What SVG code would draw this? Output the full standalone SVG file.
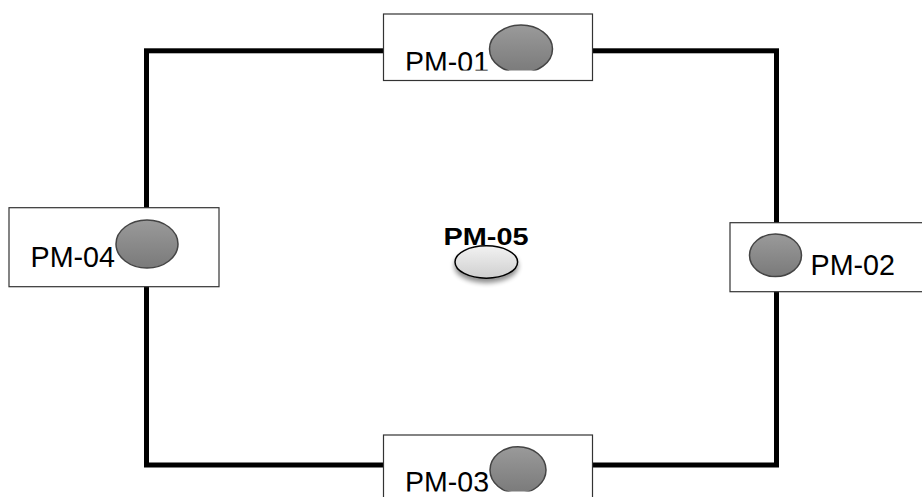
<svg xmlns="http://www.w3.org/2000/svg" width="922" height="497" viewBox="0 0 922 497">
<defs>
<linearGradient id="dark" x1="0" y1="0" x2="0" y2="1">
<stop offset="0" stop-color="#9a9a9a"/>
<stop offset="1" stop-color="#7a7a7a"/>
</linearGradient>
<linearGradient id="light" x1="0" y1="0" x2="0" y2="1">
<stop offset="0" stop-color="#f2f2f2"/>
<stop offset="1" stop-color="#cfcfcf"/>
</linearGradient>
<filter id="sh" x="-30%" y="-30%" width="160%" height="180%">
<feGaussianBlur in="SourceAlpha" stdDeviation="2.5"/>
<feOffset dx="0" dy="4" result="b"/>
<feComponentTransfer><feFuncA type="linear" slope="0.45"/></feComponentTransfer>
<feMerge><feMergeNode/><feMergeNode in="SourceGraphic"/></feMerge>
</filter>
<clipPath id="c1"><rect x="380" y="10" width="220" height="60.5"/></clipPath>
<clipPath id="c3"><rect x="380" y="430" width="220" height="61.5"/></clipPath>
</defs>
<style>
.box{fill:#fff;stroke:#333;stroke-width:1.2}
.dot{fill:url(#dark);stroke:#444;stroke-width:1.5}
.lbl{font-family:"Liberation Sans",Arial,sans-serif;font-size:30px;fill:#000}
</style>
<rect width="922" height="497" fill="#fff"/>
<g id="connectors">
<rect x="146.5" y="50.8" width="630" height="414.2" fill="none" stroke="#000" stroke-width="5"/>
</g>
<g id="pm01">
<rect class="box" x="383.5" y="14" width="209" height="66.5"/>
<g clip-path="url(#c1)">
<text class="lbl" x="405" y="71.5" textLength="84" lengthAdjust="spacingAndGlyphs">PM-01</text>
<ellipse class="dot" cx="521" cy="49" rx="31.5" ry="24"/>
</g>
</g>
<g id="pm02">
<rect class="box" x="730" y="222.7" width="195" height="69"/>
<ellipse class="dot" cx="775.5" cy="255.3" rx="26" ry="21.3"/>
<text class="lbl" x="810.5" y="275" textLength="84.5" lengthAdjust="spacingAndGlyphs">PM-02</text>
</g>
<g id="pm03">
<rect class="box" x="383.5" y="435" width="209" height="70"/>
<g clip-path="url(#c3)">
<text class="lbl" x="405" y="491.7" textLength="84" lengthAdjust="spacingAndGlyphs">PM-03</text>
<ellipse class="dot" cx="518" cy="470" rx="28" ry="23.3"/>
</g>
</g>
<g id="pm04">
<rect class="box" x="9" y="207.7" width="210" height="79"/>
<text class="lbl" x="30.5" y="266.7" textLength="84.5" lengthAdjust="spacingAndGlyphs">PM-04</text>
<ellipse class="dot" cx="147" cy="244" rx="31" ry="24"/>
</g>
<g id="pm05">
<text x="443.5" y="245" font-family="'Liberation Sans',Arial,sans-serif" font-weight="bold" font-size="23" textLength="85" lengthAdjust="spacingAndGlyphs">PM-05</text>
<ellipse cx="486.3" cy="262" rx="31.3" ry="16.2" fill="url(#light)" stroke="#000" stroke-width="1.5" filter="url(#sh)"/>
</g>
</svg>
